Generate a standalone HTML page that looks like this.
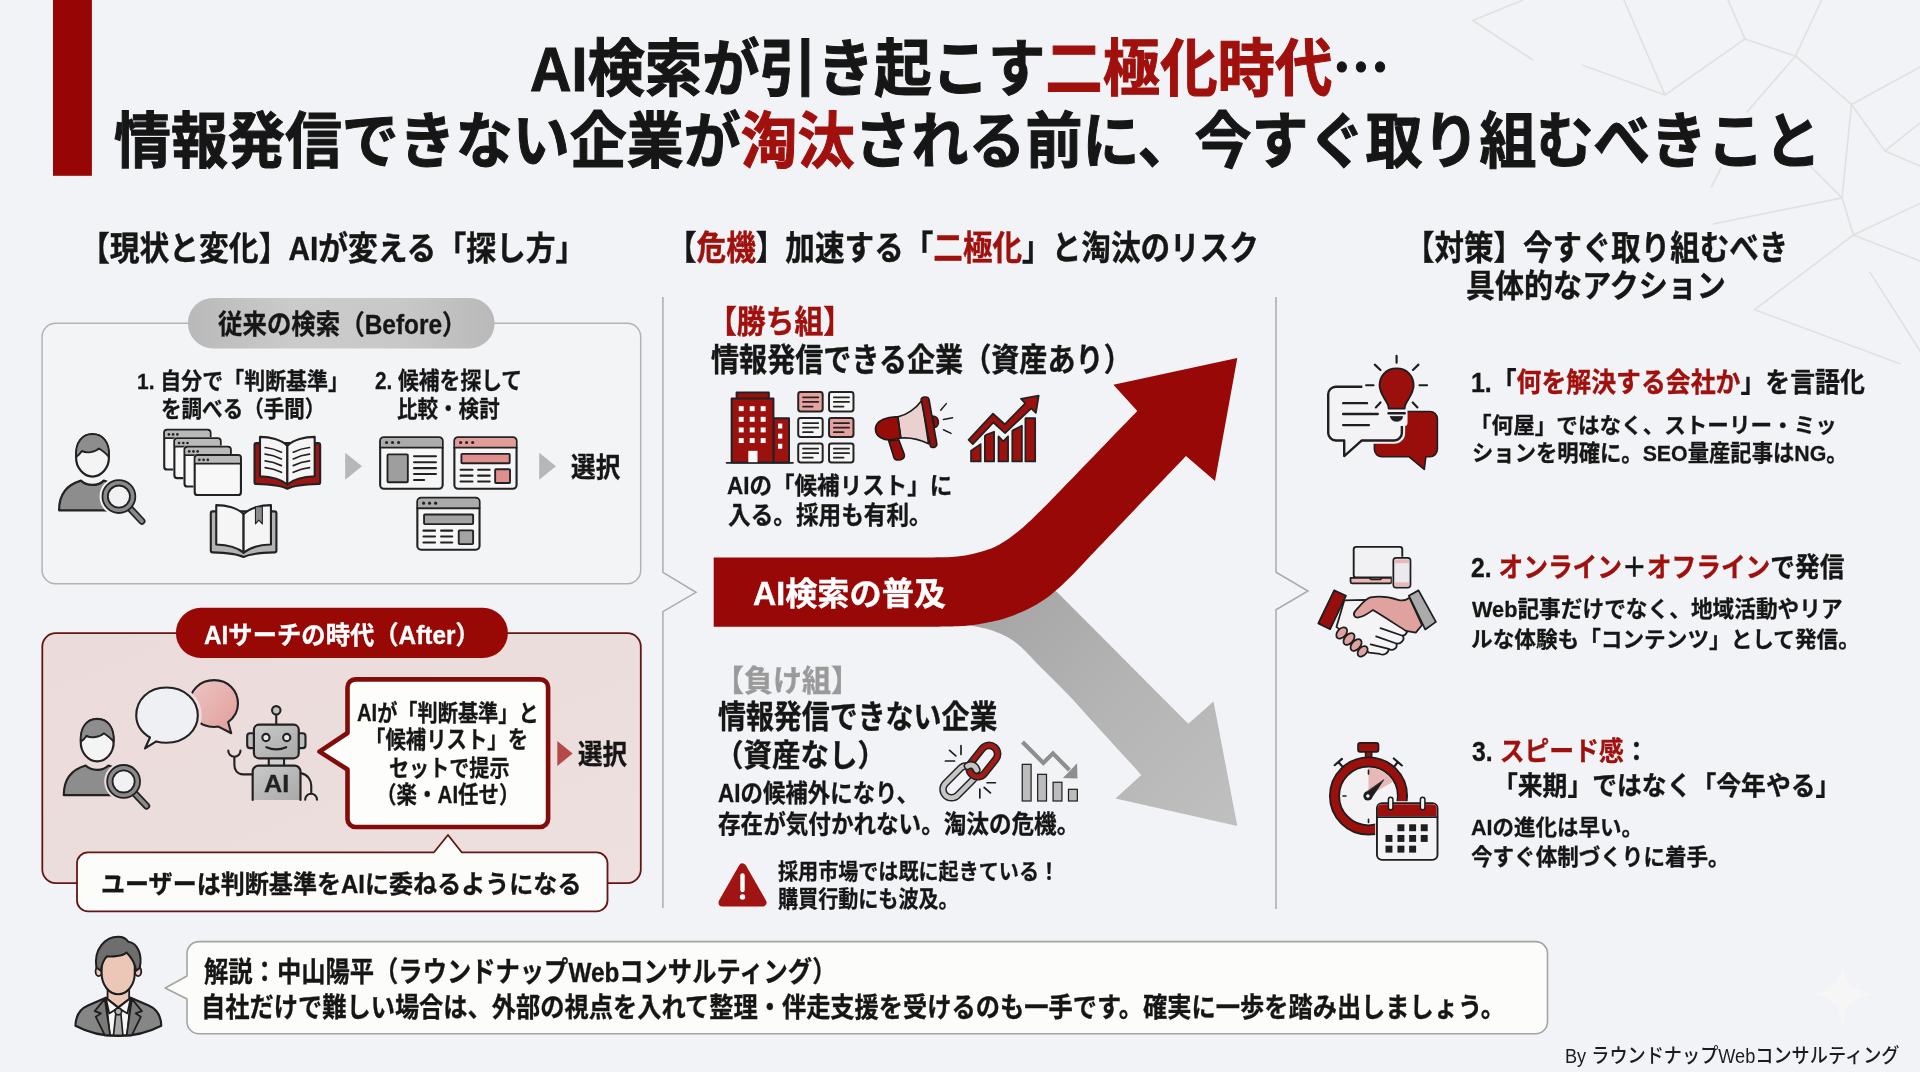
<!DOCTYPE html>
<html lang="ja"><head><meta charset="utf-8"><title>AI検索が引き起こす二極化時代</title>
<style>
html,body{margin:0;padding:0}
body{width:1920px;height:1072px;overflow:hidden;background:#f2f3f6;position:relative;font-family:"Liberation Sans", "Noto Sans CJK JP", sans-serif}
#art{position:absolute;left:0;top:0;width:1920px;height:1072px}
.t{position:absolute;white-space:nowrap;line-height:1;font-weight:700;transform-origin:0 0;font-family:"Liberation Sans", "Noto Sans CJK JP", sans-serif}
</style></head><body>
<svg id="art" width="1920" height="1072" viewBox="0 0 1920 1072">
<!-- background polygon lines -->
<g fill="none" stroke="#e1e1df" stroke-width="1.7" stroke-linecap="round">
<path d="M1472.8 20.5L1523 0M1472.8 20.5L1532.5 59.7M1582.8 65.3L1665 95M1623.9 0L1665 95L1745 39L1728 0M1745 39L1795.5 56L1821.6 0M1795.5 56L1747 112M1795.5 56L1851.5 104.5L1920 67M1851.5 104.5L1885 151L1920 123M1885 151L1920 166M1851.5 104.5L1842 197.8L1810.4 166M1842 197.8L1853.4 235L1920 203.4M1853.4 235L1920 261M1842 197.8L1713.4 224M1754.5 309.7L1853.4 235M1754.5 309.7L1900 363.8M1870 272.4L1920 350.7M1720.9 168L1711.6 186.6"/>
</g>
<!-- sparkle watermark -->
<path d="M1842.5 961C1845 984 1852 991 1876 994C1852 997 1845 1004 1842.5 1027C1840 1004 1833 997 1809 994C1833 991 1840 984 1842.5 961Z" fill="#f6f6f7"/>
<!-- red title bar -->
<rect x="53" y="0" width="38.9" height="175.8" fill="#970604"/>
<!-- dividers -->
<g fill="none" stroke="#ababab" stroke-width="1.5">
<path d="M662.9 297V572.4L696 592.3L662.9 611.6V908"/>
<path d="M1276 297V572.2L1308 591L1276 609.8V909"/>
</g>
<defs>
<linearGradient id="gPill" x1="0" y1="0" x2="1" y2="0"><stop offset="0" stop-color="#b9b9b9"/><stop offset=".35" stop-color="#cbcbcb"/><stop offset=".7" stop-color="#c8c8c8"/><stop offset="1" stop-color="#b9b9b9"/></linearGradient>
<linearGradient id="gAfter" x1="0" y1="0" x2="1" y2="1"><stop offset="0" stop-color="#ecdbdb"/><stop offset=".5" stop-color="#ecdddd"/><stop offset="1" stop-color="#ede0df"/></linearGradient>
<linearGradient id="gGrayArrow" gradientUnits="userSpaceOnUse" x1="1000" y1="600" x2="1240" y2="830"><stop offset="0" stop-color="#a6a6a6"/><stop offset=".45" stop-color="#b4b4b4"/><stop offset="1" stop-color="#c0c0c0"/></linearGradient>
<filter id="soft" x="-5%" y="-20%" width="110%" height="140%"><feGaussianBlur stdDeviation="0.6"/></filter>
</defs>
<!-- before box -->
<rect x="42.1" y="323.3" width="598.6" height="260.4" rx="13.5" fill="#f3f4f6" stroke="#b3b3b3" stroke-width="1.5"/>
<rect x="187.9" y="297.9" width="306.7" height="50.6" rx="25.3" fill="url(#gPill)" filter="url(#soft)"/>
<!-- after box -->
<rect x="42.3" y="633.1" width="598.5" height="250" rx="13.5" fill="url(#gAfter)" stroke="#631614" stroke-width="1.8"/>
<rect x="175.9" y="607.8" width="332" height="50.2" rx="25.1" fill="#980906"/>
<!-- speech box in after -->
<path d="M355.5 679.4H540.1a8 8 0 0 1 8 8V819a8 8 0 0 1 -8 8H355.5a8 8 0 0 1 -8 -8V769.5L319.5 751.6L347.5 733V687.4a8 8 0 0 1 8 -8Z" fill="#fdfdfc" stroke="#820c0a" stroke-width="4.6" stroke-linejoin="round"/>
<!-- bottom caption box -->
<path d="M88 852.3H434L448 835L461.7 852.3H596.5a11 11 0 0 1 11 11V900.4a11 11 0 0 1 -11 11H88a11 11 0 0 1 -11 -11V863.3a11 11 0 0 1 11 -11Z" fill="#fcfcfb" stroke="#631614" stroke-width="1.8" stroke-linejoin="round"/>
<!-- small arrows -->
<path d="M345.2 452.8L362 466.3L345.2 479.8Z" fill="#b7b7b7"/>
<path d="M539.2 452.8L556 466.3L539.2 479.8Z" fill="#b7b7b7"/>
<path d="M557.3 741L572.6 753.5L557.3 766Z" fill="#b34a48"/>
<!-- footer speech box -->
<path d="M199 941.6H1535.5a12 12 0 0 1 12 12V1021.8a12 12 0 0 1 -12 12H199a12 12 0 0 1 -12 -12V999L165.2 988L187 976V953.6a12 12 0 0 1 12 -12Z" fill="#fcfcfa" stroke="#a4a4a4" stroke-width="1.6" stroke-linejoin="round"/>
<!-- gray arrow -->
<path d="M1000 560L1057 592L1188.3 723.8L1213.5 701.4L1237.3 826L1115.5 798.5L1141.3 775C1133.8 766.7 1108.2 738.6 1096.0 725.2C1083.8 711.8 1077.3 704.2 1068.0 694.4C1058.7 684.6 1048.4 674.8 1040.0 666.4C1031.6 658.0 1024.6 649.6 1017.6 644.0C1010.6 638.4 1004.9 635.7 998.0 632.8C991.1 629.9 985.7 628.7 976.0 626.6C966.3 624.5 946.0 621.1 940.0 620.0Z" fill="url(#gGrayArrow)"/>
<!-- red arrow -->
<path d="M713.7 557.5H920C926.2 557.4 946.4 557.8 957.3 556.6C968.2 555.4 977.5 553.0 985.3 550.5C993.1 548.0 997.8 545.5 1004.0 541.7C1010.2 537.9 1016.4 533.0 1022.6 527.7C1028.8 522.4 1035.1 516.1 1041.3 510.0C1047.5 503.9 1044.0 507.5 1060.0 491.0C1076.0 474.5 1124.4 424.3 1137.3 411.0L1113.4 384.8L1237.3 357.9L1215 481L1186 456C1172.8 469.8 1122.9 521.9 1106.6 539.0C1090.3 556.1 1094.2 552.0 1088.0 558.5C1081.8 565.0 1075.5 572.0 1069.3 578.1C1063.1 584.2 1056.8 590.1 1050.6 594.9C1044.4 599.7 1038.2 603.6 1032.0 607.0C1025.8 610.4 1019.5 613.1 1013.3 615.4C1007.1 617.7 1002.4 619.3 994.6 621.0C986.8 622.7 979.0 624.7 966.6 625.7C954.2 626.7 927.8 626.6 920.0 626.8H713.7Z" fill="#980806"/>
<defs>
<!-- person + magnifier, drawn in 6.4x zoom coords (origin 40,420) ; halo colour via currentColor -->
<g id="person" stroke-linejoin="round" stroke-linecap="round">
 <path d="M122 578C122 470 180 412 262 388C300 425 372 425 408 388C470 405 520 450 540 578Z" fill="#8d8d8d" stroke="#222" stroke-width="14"/>
 <path d="M231 235C228 305 280 362 336 362C392 362 444 305 441 235C440 140 400 90 336 90C272 90 232 140 231 235Z" fill="#f4f4f5" stroke="#222" stroke-width="14"/>
 <path d="M231 236C224 140 272 90 336 90C400 90 448 140 441 236C430 220 405 200 378 182C352 208 296 214 268 198C258 214 244 228 231 236Z" fill="#8d8d8d" stroke="#222" stroke-width="12"/>
 <circle cx="505" cy="490" r="92" fill="none" stroke="currentColor" stroke-width="64"/>
 <path d="M575 565L652 647" stroke="currentColor" stroke-width="70" fill="none"/>
 <path d="M575 565L652 647" stroke="#222" stroke-width="46" fill="none"/>
 <path d="M575 565L652 647" stroke="#8a8a8a" stroke-width="24" fill="none"/>
 <circle cx="505" cy="490" r="88" fill="#f1f1f3" stroke="#222" stroke-width="46"/>
 <circle cx="505" cy="490" r="88" fill="none" stroke="#8a8a8a" stroke-width="23"/>
</g>
<g id="win" stroke-linejoin="round">
 <rect x="-8" y="-8" width="312" height="271" rx="24" fill="#f4f4f5"/>
 <rect x="0" y="0" width="296" height="255" rx="18" fill="#f7f7f7" stroke="#222" stroke-width="13.5"/>
 <path d="M6 18a12 12 0 0 1 12-12H278a12 12 0 0 1 12 12V50H6Z" fill="#b9b9b9"/>
 <path d="M0 54H296" stroke="#222" stroke-width="11"/>
 <circle cx="30" cy="30" r="8.5" fill="#222"/><circle cx="57" cy="30" r="8.5" fill="#222"/><circle cx="84" cy="30" r="8.5" fill="#222"/>
</g>
<g id="book" stroke-linejoin="round" stroke-linecap="round">
 <!-- local coords: spine x=0, top y=0 -->
 <path d="M-210 52a12 12 0 0 1 12-12H198a12 12 0 0 1 12 12V290a12 12 0 0 1-12 12C120 304 40 312 0 332C-40 312-120 304-198 302a12 12 0 0 1-12-12Z" fill="currentColor" stroke="#222" stroke-width="13.5"/>
 <path d="M-175 0C-112 0-38 18 0 58V305C-38 272-112 254-175 252Z" fill="#f5f5f5" stroke="#222" stroke-width="13.5"/>
 <path d="M175 0C112 0 38 18 0 58V305C38 272 112 254 175 252Z" fill="#f5f5f5" stroke="#222" stroke-width="13.5"/>
</g>
</defs>
<g transform="translate(40 420) scale(.15625)">
 <use href="#person" color="#f3f4f6"/>
 <use href="#win" x="795" y="62"/><use href="#win" x="860" y="117"/><use href="#win" x="925" y="171"/><use href="#win" x="990" y="225"/>
 <g transform="translate(1583 108)" color="#9c1414"><use href="#book"/>
  <path d="M-142 68Q-88 74-38 98M-142 111Q-88 117-38 141M-142 154Q-88 160-38 184M-142 197Q-88 203-38 227M142 68Q88 74 38 98M142 111Q88 117 38 141M142 154Q88 160 38 184M142 197Q88 203 38 227" fill="none" stroke="#222" stroke-width="11" stroke-linecap="round"/>
 </g>
 <g transform="translate(1303 545)" color="#b3b3b3"><use href="#book"/>
  <path d="M76 10H120V120L98 96L76 120Z" fill="#8c8c8c" stroke="#222" stroke-width="7" stroke-linejoin="round"/>
 </g>
</g>
<!-- web pages: 6.4x zoom coords origin (340,420) -->
<g transform="translate(340 420) scale(.15625)" stroke-linejoin="round" stroke-linecap="round">
 <g>
  <rect x="257" y="110" width="400" height="330" rx="24" fill="#f6f6f6" stroke="#222" stroke-width="13.5"/>
  <path d="M263 134a18 18 0 0 1 18-18H633a18 18 0 0 1 18 18V172H263Z" fill="#ababab"/>
  <path d="M257 177H657" stroke="#222" stroke-width="12"/>
  <circle cx="298" cy="144" r="10" fill="#222"/><circle cx="336" cy="144" r="10" fill="#222"/><circle cx="375" cy="144" r="10" fill="#222"/>
  <rect x="304" y="220" width="130" height="178" rx="6" fill="#9e9e9e" stroke="#222" stroke-width="12"/>
  <path d="M474 232H614M474 270H614M474 308H614M474 346H614M474 384H538" stroke="#222" stroke-width="13.5" fill="none"/>
 </g>
 <g>
  <rect x="732" y="110" width="398" height="330" rx="24" fill="#f6f6f6" stroke="#222" stroke-width="13.5"/>
  <path d="M738 134a18 18 0 0 1 18-18H1106a18 18 0 0 1 18 18V172H738Z" fill="#e29b97"/>
  <path d="M732 177H1130" stroke="#222" stroke-width="12"/>
  <circle cx="772" cy="144" r="10" fill="#222"/><circle cx="810" cy="144" r="10" fill="#222"/><circle cx="849" cy="144" r="10" fill="#222"/>
  <rect x="777" y="217" width="309" height="60" rx="5" fill="#e0908c" stroke="#222" stroke-width="12"/>
  <rect x="993" y="315" width="95" height="88" rx="5" fill="#e0908c" stroke="#222" stroke-width="12"/>
  <path d="M772 318H848M884 318H958M772 356H848M884 356H958M772 394H848M884 394H958" stroke="#222" stroke-width="13.5" fill="none"/>
 </g>
 <g>
  <rect x="495" y="498" width="398" height="332" rx="24" fill="#f6f6f6" stroke="#222" stroke-width="13.5"/>
  <path d="M501 522a18 18 0 0 1 18-18H869a18 18 0 0 1 18 18V560H501Z" fill="#ababab"/>
  <path d="M495 565H893" stroke="#222" stroke-width="12"/>
  <circle cx="535" cy="532" r="10" fill="#222"/><circle cx="573" cy="532" r="10" fill="#222"/><circle cx="612" cy="532" r="10" fill="#222"/>
  <rect x="538" y="605" width="314" height="61" rx="5" fill="#a3a3a3" stroke="#222" stroke-width="12"/>
  <rect x="760" y="706" width="92" height="88" rx="5" fill="#a3a3a3" stroke="#222" stroke-width="12"/>
  <path d="M534 708H608M647 708H718M534 746H608M647 746H718M534 784H608M647 784H718" stroke="#222" stroke-width="13.5" fill="none"/>
 </g>
</g>
<defs>
<linearGradient id="gPinkBub" x1="0" y1="0" x2="1" y2="1"><stop offset="0" stop-color="#ecc6c4"/><stop offset="1" stop-color="#e29c99"/></linearGradient>
<linearGradient id="gRobot" x1="0" y1="0" x2="1" y2="1"><stop offset="0" stop-color="#c9c9c9"/><stop offset="1" stop-color="#a9a9a9"/></linearGradient>
</defs>
<!-- person in after box -->
<g transform="translate(44.7 704.9) scale(.15625)"><use href="#person" color="#ecdcdc"/></g>
<!-- bubbles + robot: 6.4x zoom coords origin (50,670) -->
<g transform="translate(50 670) scale(.15625)" stroke-linejoin="round" stroke-linecap="round" stroke="#222">
 <path d="M1050 65C1140 65 1203 130 1203 215C1203 265 1180 305 1140 333L1160 405L1078 362C1068 364 1060 365 1050 365C960 365 893 300 893 215C893 130 960 65 1050 65Z" fill="url(#gPinkBub)" stroke-width="13.5"/>
 <path d="M745 100C868 100 958 185 958 290C958 395 868 478 745 478C722 478 702 476 682 470L603 508L635 440C575 408 540 352 540 290C540 185 622 100 745 100Z" fill="#ecdcdc" stroke="#ecdcdc" stroke-width="26"/>
 <path d="M745 112C862 112 946 192 946 290C946 388 862 466 745 466C722 466 700 463 680 457L608 502L640 432C585 400 552 350 552 290C552 192 628 112 745 112Z" fill="#eef0f4" stroke-width="13.5"/>
 <!-- robot -->
 <path d="M1448 286V348" fill="none" stroke-width="13.5"/>
 <circle cx="1448" cy="258" r="27" fill="#c2c2c2" stroke-width="13.5"/>
 <rect x="1262" y="405" width="60" height="95" rx="18" fill="#bdbdbd" stroke-width="13.5"/>
 <rect x="1575" y="405" width="60" height="95" rx="18" fill="#bdbdbd" stroke-width="13.5"/>
 <rect x="1400" y="560" width="98" height="55" fill="#cfcfcf" stroke-width="13.5"/>
 <rect x="1305" y="350" width="287" height="215" rx="32" fill="url(#gRobot)" stroke-width="14"/>
 <circle cx="1382" cy="432" r="23" fill="#e9e9e9" stroke-width="13.5"/>
 <circle cx="1515" cy="432" r="23" fill="#e9e9e9" stroke-width="13.5"/>
 <path d="M1385 494Q1448 522 1512 494" fill="none" stroke-width="13.5"/>
 <path d="M1297 832V650a38 38 0 0 1 38-38H1565a38 38 0 0 1 38 38V832" fill="url(#gRobot)" stroke-width="14"/>
 <path d="M1295 668H1235C1200 668 1180 640 1180 610V560" fill="none" stroke-width="13.5"/>
 <path d="M1141 516a39 39 0 0 0 78 0" fill="none" stroke-width="13.5"/>
 <path d="M1605 660C1650 668 1672 705 1672 740V790" fill="none" stroke-width="13.5"/>
 <path d="M1633 830a38 38 0 0 1 76 0" fill="none" stroke-width="13.5"/>
</g>
<!-- top row icons: 5.647x zoom coords origin (715,380) -->
<g transform="translate(715 380) scale(.17708)" stroke-linejoin="round" stroke-linecap="round" stroke="#222">
 <!-- building -->
 <rect x="122" y="70" width="182" height="40" fill="#980f0d" stroke-width="11.2"/>
 <rect x="330" y="216" width="88" height="250" fill="#a01210" stroke-width="11.2"/>
 <rect x="94" y="104" width="236" height="362" fill="#9c100e" stroke-width="11.2"/>
 <path d="M66 468H440" fill="none" stroke-width="11.2"/>
 <g fill="#fafafa" stroke="none">
  <rect x="134" y="148" width="28" height="28"/><rect x="196" y="148" width="28" height="28"/><rect x="258" y="148" width="28" height="28"/>
  <rect x="134" y="208" width="28" height="28"/><rect x="196" y="208" width="28" height="28"/><rect x="258" y="208" width="28" height="28"/>
  <rect x="134" y="268" width="28" height="28"/><rect x="196" y="268" width="28" height="28"/><rect x="258" y="268" width="28" height="28"/>
  <rect x="134" y="328" width="28" height="28"/><rect x="196" y="328" width="28" height="28"/><rect x="258" y="328" width="28" height="28"/>
  <rect x="356" y="246" width="24" height="28"/><rect x="356" y="303" width="24" height="28"/><rect x="356" y="360" width="24" height="28"/>
  <rect x="188" y="400" width="52" height="64"/>
 </g>
 <!-- doc grid -->
 <g stroke-width="11.2">
  <rect x="470" y="68" width="138" height="110" rx="14" fill="#e7a19e"/><rect x="644" y="68" width="138" height="110" rx="14" fill="#f6f6f6"/>
  <rect x="470" y="214" width="138" height="108" rx="14" fill="#f6f6f6"/><rect x="644" y="214" width="138" height="108" rx="14" fill="#e7a19e"/>
  <rect x="470" y="358" width="138" height="108" rx="14" fill="#f6f6f6"/><rect x="644" y="358" width="138" height="108" rx="14" fill="#f6f6f6"/>
  <path d="M497 98H583M497 124H583M497 150H552M671 98H757M671 124H757M671 150H726M497 243H583M497 269H583M497 295H552M671 243H757M671 269H757M671 295H726M497 387H583M497 413H583M497 439H552M671 387H757M671 413H757M671 439H726" fill="none" stroke-width="10"/>
 </g>
 <!-- megaphone moved to separate group -->
 <!-- growth chart -->
 <g fill="#9c100e" stroke-width="10">
  <path d="M1446 460V400L1500 362V460Z"/><path d="M1524 460V312L1576 292V460Z"/><path d="M1601 460V318L1628 346L1655 318V460Z"/><path d="M1679 460V286L1733 258V460Z"/><path d="M1753 460V216H1808V460Z"/>
  <path d="M1432 338L1570 190L1636 250L1752 132L1728 106L1828 88L1812 186L1786 160L1638 300L1572 240L1456 362Z" fill="none" stroke="#f2f3f6" stroke-width="26"/>
  <path d="M1432 338L1570 190L1636 250L1752 132L1728 106L1828 88L1812 186L1786 160L1638 300L1572 240L1456 362Z"/>
 </g>
</g>
<!-- chain + declining chart: 12x zoom coords origin (930,735) -->
<g transform="translate(930 735) scale(.083333)" stroke-linecap="round" stroke-linejoin="round" fill="none">
 <!-- gray link -->
 <path d="M258 652L440 470" stroke="#222" stroke-width="294"/>
 <path d="M258 652L440 470" stroke="#c6c6c6" stroke-width="258"/>
 <path d="M258 652L440 470" stroke="#222" stroke-width="150"/>
 <path d="M258 652L440 470" stroke="#f2f3f6" stroke-width="114"/>
 <!-- red link -->
 <path d="M572 398L708 228" stroke="#222" stroke-width="298"/>
 <path d="M572 398L708 228" stroke="#a31a17" stroke-width="262"/>
 <path d="M572 398L708 228" stroke="#222" stroke-width="150"/>
 <path d="M572 398L708 228" stroke="#f2f3f6" stroke-width="114"/>
 <!-- gray link end over the red link to interlock -->
 <path d="M452 372C490 345 540 360 560 420" stroke="#222" stroke-width="96"/>
 <path d="M452 372C490 345 540 360 560 420" stroke="#c6c6c6" stroke-width="60"/>
 <path d="M372 128V235M235 185L310 250M185 312H295M598 650V755M650 630L725 695M685 573H785" stroke="#1c1c1c" stroke-width="20"/>
 <!-- bars -->
 <g fill="#bcbcbc" stroke="#222" stroke-width="15" stroke-linejoin="miter">
  <rect x="1107" y="352" width="106" height="440"/><rect x="1292" y="472" width="106" height="320"/><rect x="1477" y="567" width="106" height="225"/><rect x="1662" y="652" width="106" height="140"/>
 </g>
 <path d="M1110 85L1360 335L1475 220L1672 420" stroke="#8e8e8e" stroke-width="50" stroke-linecap="butt" stroke-linejoin="miter"/>
 <path d="M1770 522L1765 340L1595 515Z" fill="#8e8e8e" stroke="none"/>
</g>
<!-- warning triangle -->
<path d="M742.5 867.5L762.5 902.5H722.5Z" fill="#a01513" stroke="#a01513" stroke-width="8" stroke-linejoin="round"/>
<path d="M742.5 875.5V890" stroke="#fff" stroke-width="4.4" stroke-linecap="round" fill="none"/>
<circle cx="742.5" cy="897" r="2.7" fill="#fff"/>
<!-- megaphone: 12.61x zoom coords origin (865,385) -->
<g transform="translate(865 385) scale(.0793)" stroke="#1c1c1c" stroke-linejoin="round" stroke-linecap="round">
 <path d="M300 705L365 915C385 962 470 952 495 905C500 890 496 875 490 860L425 690Z" fill="#960c09" stroke-width="21"/>
 <path d="M850 392C935 398 955 505 878 538Z" fill="#960c09" stroke-width="19"/>
 <path d="M415 402C520 380 640 300 718 192L802 742C700 690 560 660 450 668Z" fill="#ead0ce" stroke-width="21"/>
 <path d="M412 402C300 395 135 440 132 555C132 660 250 702 330 690L452 668Z" fill="#960c09" stroke-width="21"/>
 <path d="M708 182C712 148 792 138 806 176L906 742C908 792 840 802 824 770Z" fill="#8f1310" stroke-width="20"/>
 <path d="M955 318L1025 235M990 435L1105 412M990 565L1085 610" fill="none" stroke-width="19"/>
</g>
<!-- icon 1: bulb + chat. 7.943x zoom coords origin (1315,345) -->
<g transform="translate(1315 345) scale(.1259)" stroke-linejoin="round" stroke-linecap="round" stroke="#1e1e1e">
 <path d="M532 528H912a60 60 0 0 1 60 60V828a60 60 0 0 1-60 60H880L868 988L748 888H532a60 60 0 0 1-60-60V588a60 60 0 0 1 60-60Z" fill="#990e0b" stroke-width="13"/>
 <path d="M165 332H630a60 60 0 0 1 60 60V698a60 60 0 0 1-60 60H372L232 882V758H165a60 60 0 0 1-60-60V392a60 60 0 0 1 60-60Z" fill="#f3f3f5" stroke="#f3f3f5" stroke-width="52"/>
 <path d="M165 332H630a60 60 0 0 1 60 60V698a60 60 0 0 1-60 60H372L232 882V758H165a60 60 0 0 1-60-60V392a60 60 0 0 1 60-60Z" fill="#f3f3f5" stroke-width="19"/>
 <path d="M224 462H413M224 548H498M224 636H428" fill="none" stroke-width="19"/>
 <rect x="376" y="296" width="150" height="60" fill="#f3f3f5" stroke="none"/>
 <!-- bulb halo -->
 <path d="M648 186C735 186 783 250 783 322C783 380 745 420 720 470C713 485 712 495 712 505V620H585V505C585 495 584 485 577 470C552 420 513 380 513 322C513 250 561 186 648 186Z" fill="#f2f3f6" stroke="#f2f3f6" stroke-width="46"/>
 <path d="M648 186C735 186 783 250 783 322C783 380 745 420 720 470C713 485 712 495 712 505H585C585 495 584 485 577 470C552 420 513 380 513 322C513 250 561 186 648 186Z" fill="#9b0f0c" stroke-width="15"/>
 <path d="M585 542H712" fill="none" stroke-width="20"/>
 <path d="M600 568H696C696 592 674 606 648 606C622 606 600 592 600 568Z" fill="#1e1e1e" stroke-width="6"/>
 <path d="M648 86V140M475 156L520 198M822 156L778 198M406 320H465M830 320H890M520 456L483 496M776 456L814 496" fill="none" stroke-width="17"/>
</g>
<!-- icon 2: handshake + devices. 7.943x zoom coords origin (1310,535) -->
<g transform="translate(1310 535) scale(.1259)" stroke-linejoin="round" stroke-linecap="round" stroke="#1e1e1e">
 <rect x="347" y="94" width="386" height="244" rx="20" fill="#f1f1f3" stroke-width="15"/>
 <path d="M322 340H470L485 352H560L575 340H648V372a12 12 0 0 1-12 12H334a12 12 0 0 1-12-12Z" fill="#e9b7b5" stroke-width="14"/>
 <rect x="650" y="172" width="160" height="258" rx="30" fill="#f2f3f6" stroke="none"/>
 <rect x="662" y="182" width="136" height="236" rx="22" fill="#e9e9ee" stroke-width="14"/>
 <rect x="672" y="194" width="116" height="30" fill="#e9b7b5" stroke="none"/><rect x="672" y="376" width="116" height="32" fill="#e9b7b5" stroke="none"/>
 <!-- white hand (from left) -->
 <path d="M272 520L440 515C520 560 640 640 760 720C790 745 770 795 735 800C760 830 720 870 685 862C700 895 660 925 625 905C625 940 585 960 555 945L470 935L210 730Z" fill="#f4f4f6" stroke-width="14"/>
 <path d="M560 740L735 800M525 805L685 862M482 868L625 905" fill="none" stroke-width="14"/>
 <!-- pink hand (from right) -->
 <path d="M790 498C760 520 730 525 700 515C640 495 560 480 480 496C440 505 400 560 362 600C335 630 352 660 385 655C430 648 470 615 500 596C590 650 680 710 762 762L840 775L890 715Z" fill="#e0a29f" stroke-width="14"/>
 <!-- pink knuckles -->
 <g fill="#e0a29f" stroke-width="14">
  <ellipse cx="252" cy="778" rx="52" ry="34" transform="rotate(-48 252 778)"/>
  <ellipse cx="310" cy="826" rx="54" ry="34" transform="rotate(-48 310 826)"/>
  <ellipse cx="366" cy="874" rx="54" ry="34" transform="rotate(-48 366 874)"/>
  <ellipse cx="418" cy="924" rx="48" ry="32" transform="rotate(-48 418 924)"/>
 </g>
 <!-- cuffs -->
 <path d="M192 440L286 482L160 748L66 702Z" fill="#960f0c" stroke-width="14"/>
 <path d="M862 440L1000 690L915 750L785 482Z" fill="#ababab" stroke-width="14"/>
</g>
<!-- icon 3: stopwatch + calendar. 7.943x zoom coords origin (1315,733) -->
<g transform="translate(1315 733) scale(.1259)" stroke-linejoin="round" stroke-linecap="round" stroke="#1e1e1e">
 <rect x="402" y="145" width="48" height="60" fill="#9b0f0c" stroke-width="13"/>
 <rect x="342" y="78" width="162" height="72" rx="16" fill="#9b0f0c" stroke-width="14"/>
 <path d="M214 262L186 231M156 256L214 206M634 262L658 230M626 202L690 258" fill="none" stroke-width="17"/>
 <circle cx="425" cy="500" r="270" fill="#f3f3f5" stroke="#1e1e1e" stroke-width="88"/>
 <circle cx="425" cy="500" r="270" fill="none" stroke="#9b0f0c" stroke-width="60"/>
 <path d="M425 500V276A224 224 0 0 1 619 388Z" fill="#e8b8b6" stroke="none"/>
 <path d="M425 296V326M222 500H246M425 686V710" fill="none" stroke-width="13"/>
 <path d="M545 374L446 520L398 478Z" fill="#1e1e1e" stroke-width="6"/>
 <circle cx="420" cy="500" r="36" fill="#1e1e1e" stroke="none"/><circle cx="420" cy="500" r="14" fill="#f3f3f5" stroke="none"/>
 <!-- calendar -->
 <rect x="478" y="543" width="509" height="479" rx="50" fill="#f2f3f6" stroke="none"/>
 <rect x="492" y="557" width="481" height="451" rx="40" fill="#f3f3f5" stroke-width="15"/>
 <path d="M500 662V597a32 32 0 0 1 32-32H933a32 32 0 0 1 32 32V662Z" fill="#9b0f0c" stroke="none"/>
 <path d="M492 668H973" fill="none" stroke-width="13"/>
 <rect x="583" y="510" width="36" height="100" rx="18" fill="#f3f3f5" stroke-width="12"/>
 <rect x="837" y="510" width="36" height="100" rx="18" fill="#f3f3f5" stroke-width="12"/>
 <g fill="#1e1e1e" stroke="none">
  <rect x="655" y="725" width="55" height="55"/><rect x="748" y="725" width="55" height="55"/><rect x="840" y="725" width="55" height="55"/>
  <rect x="560" y="810" width="55" height="55"/><rect x="655" y="810" width="55" height="55"/><rect x="748" y="810" width="55" height="55"/><rect x="840" y="810" width="55" height="55"/>
  <rect x="560" y="895" width="55" height="55"/><rect x="655" y="895" width="55" height="55"/><rect x="748" y="895" width="55" height="55"/>
 </g>
</g>
<!-- avatar: 8.936x zoom coords origin (60,925) -->
<g transform="translate(60 925) scale(.11191)" stroke-linejoin="round" stroke-linecap="round" stroke="#1e1e1e">
 <!-- suit -->
 <path d="M410 650L250 720C170 755 140 820 138 900C250 960 400 992 520 992C640 992 790 960 905 900C903 820 872 755 792 720L632 650Z" fill="#868686" stroke-width="19"/>
 <!-- shirt -->
 <path d="M410 650L520 752L632 650L600 985H445Z" fill="#f6f6f6" stroke-width="16"/>
 <!-- neck -->
 <path d="M425 575V660L520 735L618 660V575Z" fill="#ecc6b6" stroke-width="16"/>
 <!-- collar -->
 <path d="M410 652L520 740L440 790Z" fill="#f6f6f6" stroke-width="16"/><path d="M632 652L520 740L602 790Z" fill="#f6f6f6" stroke-width="16"/>
 <!-- tie -->
 <path d="M498 800L478 985H562L545 800Z" fill="#a9a9a9" stroke-width="15"/>
 <circle cx="521" cy="772" r="30" fill="#b5b5b5" stroke-width="15"/>
 <!-- lapels -->
 <path d="M400 660L310 770L365 790L320 820L400 985H448Z" fill="#7a7a7a" stroke-width="16"/>
 <path d="M642 660L732 770L677 790L722 820L642 985H596Z" fill="#7a7a7a" stroke-width="16"/>
 <!-- ears -->
 <ellipse cx="346" cy="415" rx="28" ry="42" fill="#ecc6b6" stroke-width="16"/><ellipse cx="698" cy="415" rx="28" ry="42" fill="#ecc6b6" stroke-width="16"/>
 <!-- face -->
 <path d="M372 330C372 250 440 235 520 235C600 235 668 250 668 330V430C668 540 600 618 520 618C440 618 372 540 372 430Z" fill="#ecc6b6" stroke-width="18"/>
 <!-- hair -->
 <path d="M325 380C300 220 400 105 520 105C560 105 590 120 610 150C690 160 740 260 712 385C700 390 690 400 680 410C672 350 640 290 595 245C560 280 460 285 420 280C390 310 372 360 365 410C352 398 340 388 325 380Z" fill="#6e6e6e" stroke-width="18"/>
</g>

</svg>
<div class="t" style="left:530.28px;top:37.50px;font-size:62.42px;transform:scaleX(0.9196);color:#161616;-webkit-text-stroke:1.06px">AI検索が引き起こす<span style="color:#a0100d">二極化時代</span>⋯</div>
<div class="t" style="left:113.86px;top:111.61px;font-size:60.94px;transform:scaleX(0.9348);color:#161616;-webkit-text-stroke:1.04px">情報発信できない企業が<span style="color:#a0100d">淘汰</span>される前に、今すぐ取り組むべきこと</div>
<div class="t" style="left:79.75px;top:231.97px;font-size:33.30px;transform:scaleX(0.8942);color:#161616;-webkit-text-stroke:0.40px">【現状と変化】AIが変える「探し方」</div>
<div class="t" style="left:666.96px;top:231.64px;font-size:33.65px;transform:scaleX(0.8797);color:#161616;-webkit-text-stroke:0.40px">【<span style="color:#a0100d">危機</span>】加速する「<span style="color:#a0100d">二極化</span>」と淘汰のリスク</div>
<div class="t" style="left:1404.84px;top:231.64px;font-size:33.65px;transform:scaleX(0.8763);color:#161616;-webkit-text-stroke:0.40px">【対策】今すぐ取り組むべき</div>
<div class="t" style="left:1466.45px;top:271.00px;font-size:31.60px;transform:scaleX(0.9191);color:#161616;-webkit-text-stroke:0.38px">具体的なアクション</div>
<div class="t" style="left:217.51px;top:310.57px;font-size:27.08px;transform:scaleX(0.9028);color:#161616;-webkit-text-stroke:0.32px">従来の検索（Before）</div>
<div class="t" style="left:137.34px;top:370.23px;font-size:22.92px;transform:scaleX(0.9154);color:#161616;-webkit-text-stroke:0.28px">1. 自分で「判断基準」</div>
<div class="t" style="left:160.66px;top:398.03px;font-size:22.71px;transform:scaleX(0.9050);color:#161616;-webkit-text-stroke:0.27px">を調べる（手間）</div>
<div class="t" style="left:375.18px;top:370.00px;font-size:23.40px;transform:scaleX(0.8878);color:#161616;-webkit-text-stroke:0.28px">2. 候補を探して</div>
<div class="t" style="left:397.38px;top:399.00px;font-size:22.63px;transform:scaleX(0.9079);color:#161616;-webkit-text-stroke:0.27px">比較・検討</div>
<div class="t" style="left:571.21px;top:453.60px;font-size:27.45px;transform:scaleX(0.8978);color:#161616;-webkit-text-stroke:0.33px">選択</div>
<div class="t" style="left:203.87px;top:622.76px;font-size:25.52px;transform:scaleX(0.9534);color:#ffffff;-webkit-text-stroke:0.31px">AIサーチの時代（After）</div>
<div class="t" style="left:356.99px;top:701.96px;font-size:23.20px;transform:scaleX(0.8705);color:#161616;-webkit-text-stroke:0.28px">AIが「判断基準」と</div>
<div class="t" style="left:364.74px;top:729.24px;font-size:23.54px;transform:scaleX(0.8665);color:#161616;-webkit-text-stroke:0.28px">「候補リスト」を</div>
<div class="t" style="left:388.50px;top:756.70px;font-size:23.09px;transform:scaleX(0.8700);color:#161616;-webkit-text-stroke:0.28px">セットで提示</div>
<div class="t" style="left:375.95px;top:784.24px;font-size:23.54px;transform:scaleX(0.8720);color:#161616;-webkit-text-stroke:0.28px">（楽・AI任せ）</div>
<div class="t" style="left:578.11px;top:741.00px;font-size:27.66px;transform:scaleX(0.8872);color:#161616;-webkit-text-stroke:0.33px">選択</div>
<div class="t" style="left:100.82px;top:872.25px;font-size:25.26px;transform:scaleX(0.9523);color:#161616;-webkit-text-stroke:0.30px">ユーザーは判断基準をAIに委ねるようになる</div>
<div class="t" style="left:264.04px;top:771.63px;font-size:24.20px;transform:scaleX(1.0421);color:#222222;-webkit-text-stroke:0.29px">AI</div>
<div class="t" style="left:708.27px;top:307.00px;font-size:31.49px;transform:scaleX(0.9156);color:#a0100d;-webkit-text-stroke:0.38px">【勝ち組】</div>
<div class="t" style="left:710.84px;top:344.52px;font-size:31.88px;transform:scaleX(0.8811);color:#161616;-webkit-text-stroke:0.38px">情報発信できる企業（資産あり）</div>
<div class="t" style="left:727.42px;top:475.44px;font-size:23.54px;transform:scaleX(0.9575);color:#161616;-webkit-text-stroke:0.28px">AIの「候補リスト」に</div>
<div class="t" style="left:728.22px;top:504.00px;font-size:24.74px;transform:scaleX(0.9149);color:#161616;-webkit-text-stroke:0.30px">入る。採用も有利。</div>
<div class="t" style="left:752.73px;top:577.82px;font-size:32.29px;transform:scaleX(0.9963);color:#ffffff;-webkit-text-stroke:0.39px">AI検索の普及</div>
<div class="t" style="left:714.76px;top:665.50px;font-size:30.00px;transform:scaleX(0.9665);color:#9a9a9a;-webkit-text-stroke:0.36px">【負け組】</div>
<div class="t" style="left:718.34px;top:701.52px;font-size:31.56px;transform:scaleX(0.8855);color:#161616;-webkit-text-stroke:0.38px">情報発信できない企業</div>
<div class="t" style="left:715.20px;top:740.31px;font-size:30.52px;transform:scaleX(0.9332);color:#161616;-webkit-text-stroke:0.37px">（資産なし）</div>
<div class="t" style="left:718.13px;top:781.00px;font-size:25.11px;transform:scaleX(0.8937);color:#161616;-webkit-text-stroke:0.30px">AIの候補外になり、</div>
<div class="t" style="left:718.35px;top:811.51px;font-size:25.51px;transform:scaleX(0.8853);color:#161616;-webkit-text-stroke:0.31px">存在が気付かれない。淘汰の危機。</div>
<div class="t" style="left:778.40px;top:860.72px;font-size:21.88px;transform:scaleX(0.9177);color:#161616;-webkit-text-stroke:0.26px">採用市場では既に起きている！</div>
<div class="t" style="left:778.40px;top:888.00px;font-size:23.16px;transform:scaleX(0.8667);color:#161616;-webkit-text-stroke:0.28px">購買行動にも波及。</div>
<div class="t" style="left:1471.21px;top:369.02px;font-size:27.34px;transform:scaleX(0.9102);color:#161616;-webkit-text-stroke:0.33px">1.「<span style="color:#a0100d">何を解決する会社か</span>」を言語化</div>
<div class="t" style="left:1469.78px;top:414.92px;font-size:21.67px;transform:scaleX(0.9964);color:#161616;-webkit-text-stroke:0.26px">「何屋」ではなく、ストーリー・ミッ</div>
<div class="t" style="left:1471.89px;top:443.10px;font-size:22.63px;transform:scaleX(0.9428);color:#161616;-webkit-text-stroke:0.27px">ションを明確に。SEO量産記事はNG。</div>
<div class="t" style="left:1471.26px;top:554.20px;font-size:27.16px;transform:scaleX(0.9099);color:#161616;-webkit-text-stroke:0.33px">2. <span style="color:#a0100d">オンライン</span>＋<span style="color:#a0100d">オフライン</span>で発信</div>
<div class="t" style="left:1472.00px;top:599.25px;font-size:22.37px;transform:scaleX(0.9699);color:#161616;-webkit-text-stroke:0.27px">Web記事だけでなく、地域活動やリア</div>
<div class="t" style="left:1471.13px;top:628.72px;font-size:21.98px;transform:scaleX(0.9850);color:#161616;-webkit-text-stroke:0.26px">ルな体験も「コンテンツ」として発信。</div>
<div class="t" style="left:1471.50px;top:739.02px;font-size:26.76px;transform:scaleX(0.9291);color:#161616;-webkit-text-stroke:0.32px">3. <span style="color:#a0100d">スピード感</span>：</div>
<div class="t" style="left:1492.72px;top:772.97px;font-size:26.67px;transform:scaleX(0.9307);color:#161616;-webkit-text-stroke:0.32px">「来期」ではなく「今年やる」</div>
<div class="t" style="left:1471.35px;top:817.50px;font-size:21.38px;transform:scaleX(1.0062);color:#161616;-webkit-text-stroke:0.26px">AIの進化は早い。</div>
<div class="t" style="left:1471.35px;top:846.23px;font-size:22.71px;transform:scaleX(0.9492);color:#161616;-webkit-text-stroke:0.27px">今すぐ体制づくりに着手。</div>
<div class="t" style="left:204.31px;top:957.57px;font-size:28.45px;transform:scaleX(0.8543);color:#161616;-webkit-text-stroke:0.34px">解説：中山陽平（ラウンドナップWebコンサルティング）</div>
<div class="t" style="left:201.41px;top:993.68px;font-size:27.71px;transform:scaleX(0.8748);color:#161616;-webkit-text-stroke:0.33px">自社だけで難しい場合は、外部の視点を入れて整理・伴走支援を受けるのも一手です。確実に一歩を踏み出しましょう。</div>
<div class="t" style="left:1565.05px;top:1046.00px;font-size:20.28px;transform:scaleX(0.8958);color:#1c1c1c;font-weight:500">By ラウンドナップWebコンサルティング</div>
</body></html>
